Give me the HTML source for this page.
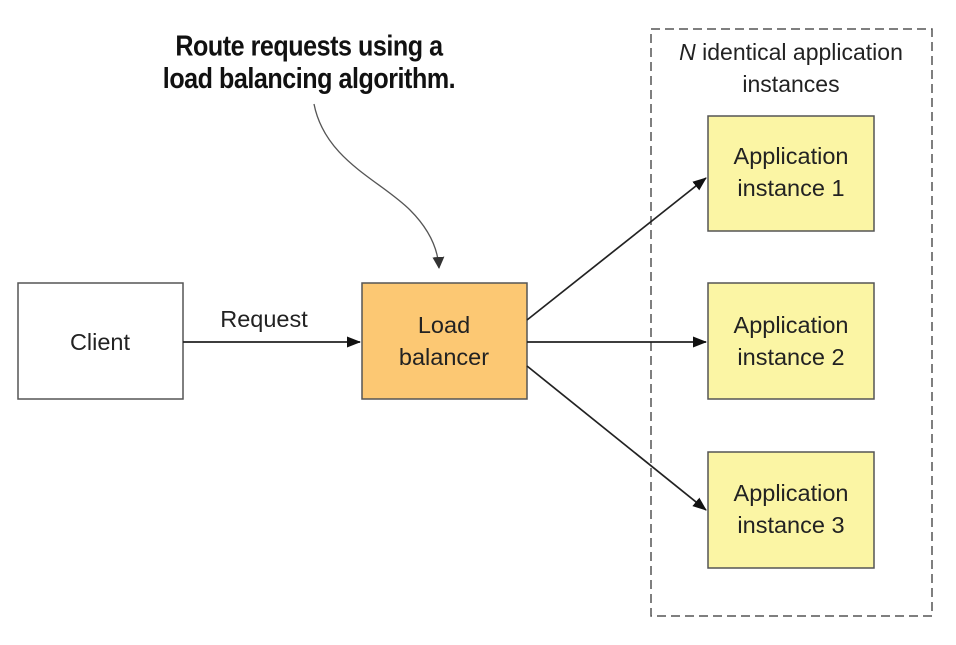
<!DOCTYPE html>
<html><head><style>
body{margin:0;background:#fff;width:956px;height:640px;overflow:hidden}
</style></head><body>
<svg width="956" height="640" xmlns="http://www.w3.org/2000/svg" font-family="Liberation Sans, sans-serif">
<defs>
<marker id="a" markerWidth="14" markerHeight="11" refX="13" refY="5.5" orient="auto" markerUnits="userSpaceOnUse"><path d="M0,0 L14,5.5 L0,11 Z" fill="#111"/></marker>
<marker id="b" markerWidth="12" markerHeight="12" refX="11" refY="6" orient="auto" markerUnits="userSpaceOnUse"><path d="M0,0 L12,6 L0,12 Z" fill="#333"/></marker>
</defs>
<rect x="651" y="29" width="281" height="587" fill="none" stroke="#555" stroke-width="1.5" stroke-dasharray="9,5"/>
<text x="791" y="60" font-size="23" text-anchor="middle" fill="#222"><tspan font-style="italic">N</tspan> identical application</text>
<text x="791" y="92" font-size="23" text-anchor="middle" fill="#222">instances</text>
<text x="309" y="53" font-size="27" font-weight="bold" text-anchor="middle" fill="#111" letter-spacing="-0.5" transform="translate(309 0) scale(0.93 1.05) translate(-309 0)">Route requests using a</text>
<text x="309" y="84" font-size="27" font-weight="bold" text-anchor="middle" fill="#111" letter-spacing="-0.5" transform="translate(309 0) scale(0.93 1.05) translate(-309 0)">load balancing algorithm.</text>
<path d="M314,104 C325,160 380,180 410,210 C430,230 438,250 439,268" fill="none" stroke="#555" stroke-width="1.3" marker-end="url(#b)"/>
<rect x="18" y="283" width="165" height="116" fill="#fff" stroke="#555" stroke-width="1.5"/>
<text x="100" y="350" font-size="23.5" text-anchor="middle" fill="#222">Client</text>
<text x="264" y="327" font-size="23.5" text-anchor="middle" fill="#222">Request</text>
<line x1="183" y1="342" x2="360" y2="342" stroke="#222" stroke-width="1.7" marker-end="url(#a)"/>
<rect x="362" y="283" width="165" height="116" fill="#fcc873" stroke="#555" stroke-width="1.5"/>
<text x="444" y="333" font-size="23.5" text-anchor="middle" fill="#222">Load</text>
<text x="444" y="365" font-size="23.5" text-anchor="middle" fill="#222">balancer</text>
<line x1="527" y1="320" x2="706" y2="178" stroke="#222" stroke-width="1.7" marker-end="url(#a)"/>
<line x1="527" y1="342" x2="706" y2="342" stroke="#222" stroke-width="1.7" marker-end="url(#a)"/>
<line x1="527" y1="366" x2="706" y2="510" stroke="#222" stroke-width="1.7" marker-end="url(#a)"/>
<g fill="#fbf5a4" stroke="#555" stroke-width="1.5">
<rect x="708" y="116" width="166" height="115"/>
<rect x="708" y="283" width="166" height="116"/>
<rect x="708" y="452" width="166" height="116"/>
</g>
<g font-size="23.5" text-anchor="middle" fill="#222">
<text x="791" y="164">Application</text><text x="791" y="196">instance 1</text>
<text x="791" y="333">Application</text><text x="791" y="365">instance 2</text>
<text x="791" y="501">Application</text><text x="791" y="533">instance 3</text>
</g>
</svg>
</body></html>
